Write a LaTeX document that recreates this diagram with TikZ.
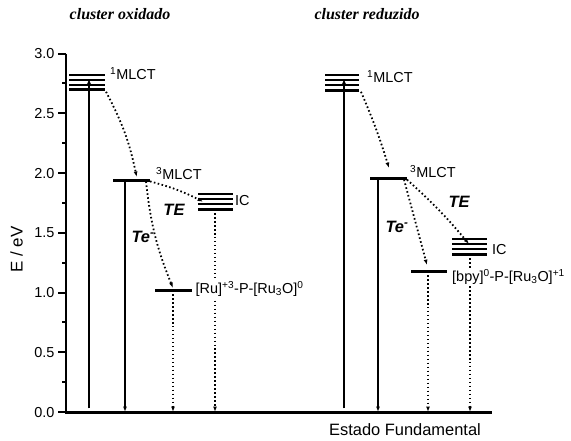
\documentclass[tikz,border=0pt]{standalone}
\usepackage{fontspec}
\setmainfont{Liberation Sans}
\newfontfamily\titlefont{Liberation Serif}
\usetikzlibrary{arrows.meta}

\begin{document}
\begin{tikzpicture}[x=1bp,y=119.5bp,
                    axis/.style={line width=3pt},
                    tick/.style={line width=2pt},
                    level/.style={line width=3pt},
                    sublevel/.style={line width=1.5pt},
                    trans/.style={line width=1.8pt,-{Latex[length=5.5pt,width=4pt]}},
                    relax/.style={line width=1.8pt,dash pattern=on 1.6pt off 2.4pt,
                                  -{Latex[length=5.5pt,width=4pt]}},
                    lbl/.style={font=\fontsize{14.5}{16}\selectfont,inner sep=1pt},
                    proc/.style={font=\fontsize{16.5}{18}\selectfont\bfseries\itshape},
                    ttl/.style={font=\fontsize{16}{18}\selectfont\titlefont\bfseries\itshape}]
 \path[use as bounding box] (0,-0.234) rectangle (571,3.448);
 % eixos
 \coordinate (orig) at (66,0); \coordinate (ytop) at (66,3); \coordinate (xend) at (492,0);
 \draw[axis] (ytop) -- (orig) -- (xend);
 \foreach \v/\t in {0/0.0,0.5/0.5,1/1.0,1.5/1.5,2/2.0,2.5/2.5,3/3.0}
  \draw[tick] (66,\v) -- ++(-8,0) node[lbl,left=1.5pt] (tk\t) {\t};
 \foreach \v in {0.25,0.75,1.25,1.75,2.25,2.75}
  \draw[tick] (66,\v) -- ++(-4.5,0);
 \node[rotate=90,font=\fontsize{17}{19}\selectfont] (ylab) at (16.5,1.36) {E / eV};
 \node[ttl] (ttlA) at (120,3.33) {cluster oxidado};
 \node[ttl] (ttlB) at (367,3.33) {cluster reduzido};
 \node[font=\fontsize{16.5}{18}\selectfont] (gs) at (405,-0.15) {Estado Fundamental};

 % cluster oxidado
 \foreach \e in {2.820,2.778,2.736} \draw[sublevel] (69,\e) -- (105,\e);
 \draw[level] (69,2.695) -- (105,2.695);
 \draw[level] (113,1.941) -- (150,1.941);
 \foreach \e in {1.824,1.782,1.741} \draw[sublevel] (198,\e) -- (233,\e);
 \draw[level] (198,1.699) -- (233,1.699);
 \draw[level] (155,1.021) -- (192,1.021);
 \coordinate (gA1) at (89,0.03); \coordinate (sA) at (89,2.79);
 \coordinate (sAr) at (106,2.68); \coordinate (tAtop) at (136.7,1.967);
 \coordinate (tA) at (125,1.941); \coordinate (gA2) at (125,0);
 \coordinate (tAr) at (150,1.93); \coordinate (icAin) at (203,1.760);
 \coordinate (tAm) at (146,1.93); \coordinate (ctAin) at (173,1.038);
 \coordinate (ctA) at (173,1.021); \coordinate (gA3) at (173,0);
 \coordinate (icA) at (215,1.699); \coordinate (gA4) at (215,0);
 \draw[trans] (gA1) -- (sA);
 \draw[trans] (tA) -- (gA2);
 \draw[relax] (sAr) to[bend left=8] (tAtop);
 \draw[relax] (tAr) to[bend left=6] (icAin);
 \draw[relax] (tAm) to[bend right=8] (ctAin);
 \draw[relax] (ctA) -- (gA3);
 \draw[relax] (icA) -- (gA4);
 \node[lbl,anchor=west] (s1A) at (109,2.834) {\textsuperscript{1}MLCT};
 \node[lbl,anchor=west] (t1A) at (155,1.997) {\textsuperscript{3}MLCT};
 \node[lbl,anchor=west] (icAl) at (234,1.768) {IC};
 \node[lbl,anchor=west,fill=white] (ctAl) at (194.5,1.029) {[Ru]\textsuperscript{+3}-P-[Ru\textsubscript{3}O]\textsuperscript{0}};
 \node[proc] (teA) at (174,1.69) {TE};
 \node[proc] (elA) at (143,1.467) {Te\textsuperscript{-}};

 % cluster reduzido
 \foreach \e in {2.820,2.778,2.736} \draw[sublevel] (325,\e) -- (359,\e);
 \draw[level] (325,2.69) -- (359,2.69);
 \draw[level] (370,1.956) -- (407,1.956);
 \foreach \e in {1.448,1.406,1.364} \draw[sublevel] (452,\e) -- (487,\e);
 \draw[level] (452,1.320) -- (487,1.320);
 \draw[level] (411,1.180) -- (447,1.180);
 \coordinate (gB1) at (344,0.03); \coordinate (sB) at (344,2.79);
 \coordinate (sBr) at (361,2.68); \coordinate (tBtop) at (389,2.042);
 \coordinate (tB) at (378,1.956); \coordinate (gB2) at (378,0);
 \coordinate (tBr) at (407,1.945); \coordinate (icBin) at (469,1.406);
 \coordinate (tBm) at (404,1.945); \coordinate (ctBin) at (427,1.230);
 \coordinate (ctB) at (428,1.180); \coordinate (gB3) at (428,0);
 \coordinate (icB) at (470,1.320); \coordinate (gB4) at (470,0);
 \draw[trans] (gB1) -- (sB);
 \draw[trans] (tB) -- (gB2);
 \draw[relax] (sBr) to[bend left=3] (tBtop);
 \draw[relax] (tBr) to[bend left=4] (icBin);
 \draw[relax] (tBm) -- (ctBin);
 \draw[relax] (ctB) -- (gB3);
 \draw[relax] (icB) -- (gB4);
 \node[lbl,anchor=west] (s1B) at (366,2.806) {\textsuperscript{1}MLCT};
 \node[lbl,anchor=west] (t1B) at (409,2.011) {\textsuperscript{3}MLCT};
 \node[lbl,anchor=west] (icBl) at (491,1.364) {IC};
 \node[lbl,anchor=west,fill=white] (ctBl) at (451,1.13) {[bpy]\textsuperscript{0}-P-[Ru\textsubscript{3}O]\textsuperscript{+1}};
 \node[proc] (teB) at (459,1.76) {TE};
 \node[proc] (elB) at (397,1.551) {Te\textsuperscript{-}};
\end{tikzpicture}
\end{document}
